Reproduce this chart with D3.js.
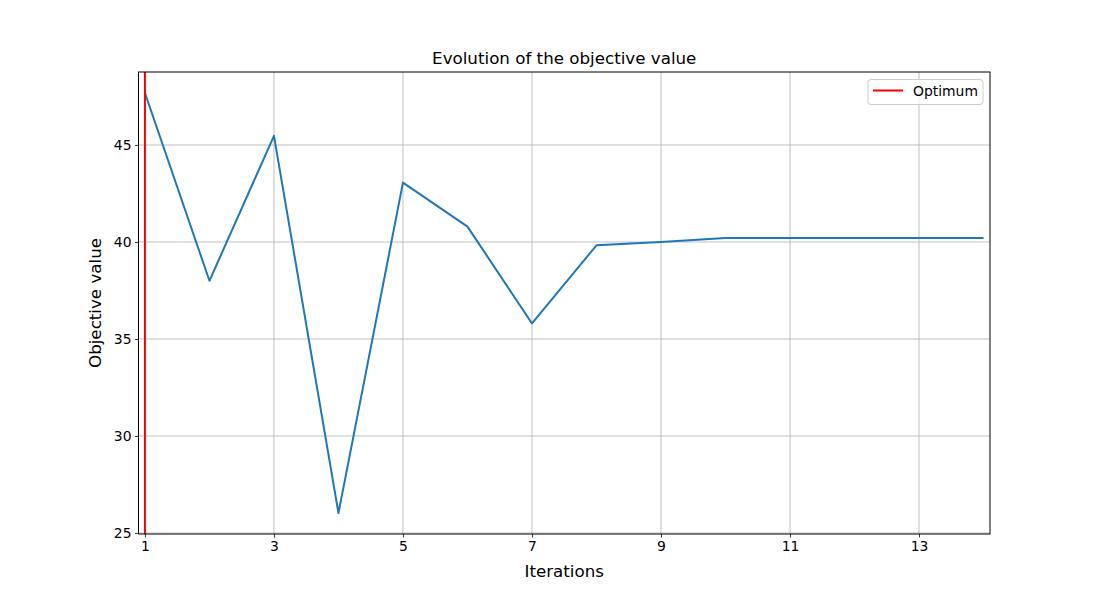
<!DOCTYPE html>
<html><head><meta charset="utf-8">
<script src="https://cdn.jsdelivr.net/npm/d3@7"></script>
<style>body{margin:0;background:#fff;font-family:"DejaVu Sans",sans-serif;}</style>
</head><body><svg id="c" width="1100" height="600"></svg>
<script>
const iterations = [1,2,3,4,5,6,7,8,9,10,11,12,13,14];
const objective = [47.68,38.0,45.47,26.03,43.06,40.79,35.8,39.83,40.0,40.2,40.2,40.2,40.2,40.2];
const optimumX = 1;
const xTicks = [1,3,5,7,9,11,13];
const yTicks = [25,30,35,40,45];
const title = "Evolution of the objective value";
const xLabel = "Iterations";
const yLabel = "Objective value";
const legendLabel = "Optimum";

const svg = d3.select("#c");
const L=138.5, R=990, T=72, B=534;
const x = d3.scaleLinear().domain([0.9, 14.1]).range([L, R]);
const yMin = d3.min(objective), yMax = d3.max(objective), pad=(yMax-yMin)*0.05;
const y = d3.scaleLinear().domain([yMin-pad, yMax+pad]).range([B, T]);

const g = svg.append("g");
// grid
g.selectAll(".gx").data(xTicks).enter().append("line")
 .attr("x1",d=>x(d)).attr("x2",d=>x(d)).attr("y1",T).attr("y2",B)
 .attr("stroke","#b0b0b0").attr("stroke-width",0.8);
g.selectAll(".gy").data(yTicks).enter().append("line")
 .attr("x1",L).attr("x2",R).attr("y1",d=>y(d)).attr("y2",d=>y(d))
 .attr("stroke","#b0b0b0").attr("stroke-width",0.8);

// axes
const xAxis = d3.axisBottom(x).tickValues(xTicks).tickSize(3.5).tickPadding(3.5).tickFormat(d3.format("d"));
const yAxis = d3.axisLeft(y).tickValues(yTicks).tickSize(3.5).tickPadding(3.5).tickFormat(d3.format("d"));
const xa = svg.append("g").attr("transform",`translate(0,${B})`).call(xAxis);
const ya = svg.append("g").attr("transform",`translate(${L},0)`).call(yAxis);
[xa,ya].forEach(a=>{
  a.select(".domain").remove();
  a.selectAll("text").attr("font-family","DejaVu Sans").attr("font-size","13.9px").attr("fill","#000");
  a.selectAll("line").attr("stroke","#000").attr("stroke-width",0.8);
});

// line
const line = d3.line().x((d,i)=>x(iterations[i])).y(d=>y(d));
svg.append("path").datum(objective).attr("d",line).attr("fill","none")
 .attr("stroke","#1f77b4").attr("stroke-width",2).attr("stroke-linejoin","round");

// optimum vline
svg.append("line").attr("x1",x(optimumX)).attr("x2",x(optimumX)).attr("y1",T).attr("y2",B)
 .attr("stroke","red").attr("stroke-width",2);

// frame
svg.append("rect").attr("x",L).attr("y",T).attr("width",R-L).attr("height",B-T)
 .attr("fill","none").attr("stroke","#000").attr("stroke-width",1);

// title and labels
svg.append("text").attr("x",(L+R)/2).attr("y",T-8).attr("text-anchor","middle")
 .attr("font-size","16.7px").text(title);
svg.append("text").attr("x",(L+R)/2).attr("y",577).attr("text-anchor","middle")
 .attr("font-size","16.7px").text(xLabel);
svg.append("text").attr("transform",`translate(101,${(T+B)/2}) rotate(-90)`).attr("text-anchor","middle")
 .attr("font-size","16.7px").text(yLabel);

// legend
const lg = svg.append("g");
lg.append("rect").attr("x",868).attr("y",79.5).attr("width",115).attr("height",25).attr("rx",3)
 .attr("fill","#fff").attr("fill-opacity",0.8).attr("stroke","#ccc").attr("stroke-width",1);
lg.append("line").attr("x1",873).attr("x2",903).attr("y1",90.5).attr("y2",90.5).attr("stroke","red").attr("stroke-width",2);
lg.append("text").attr("x",913).attr("y",95.5).attr("font-size","13.9px").text(legendLabel);
</script></body></html>
